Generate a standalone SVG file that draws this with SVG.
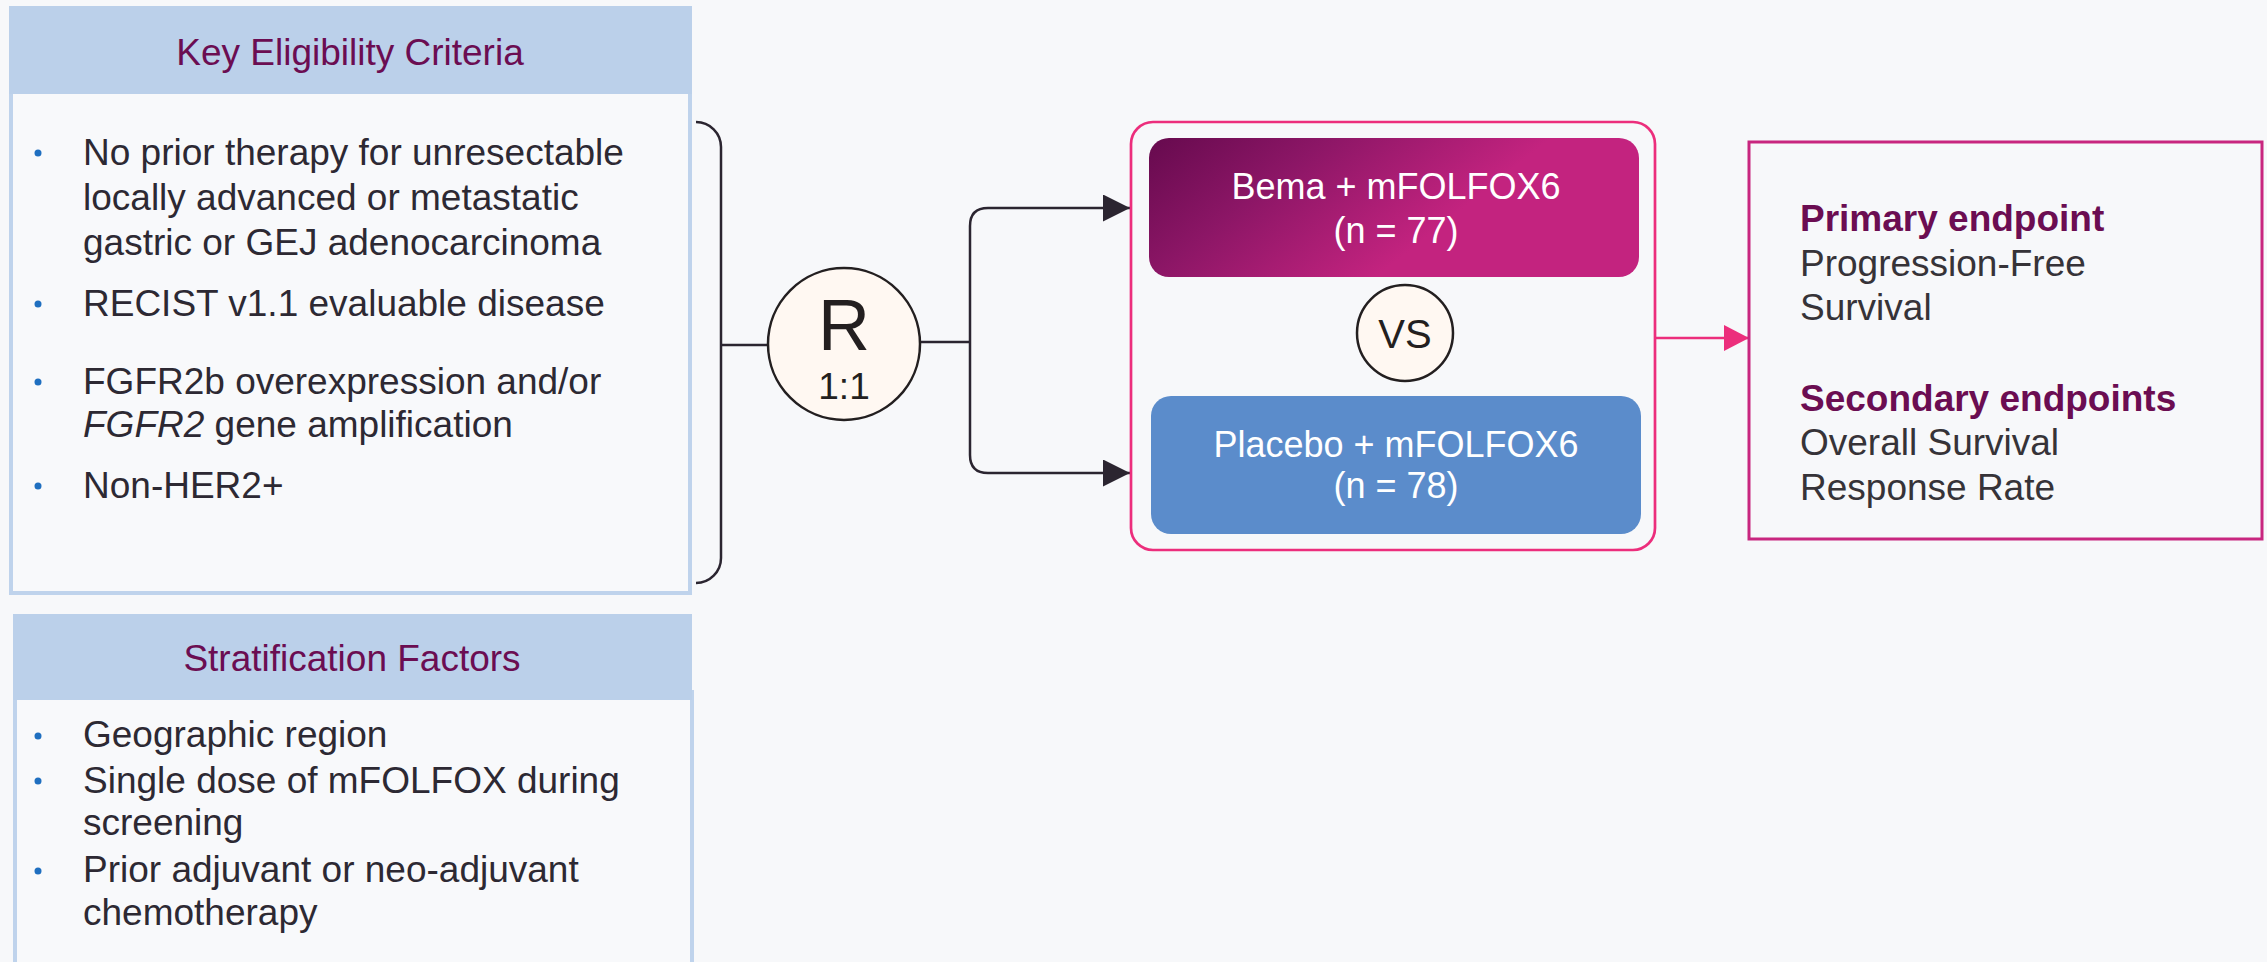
<svg xmlns="http://www.w3.org/2000/svg" width="2267" height="962" viewBox="0 0 2267 962">
  <defs>
    <linearGradient id="bemaFill" gradientUnits="userSpaceOnUse" x1="1149" y1="138" x2="1371" y2="418">
      <stop offset="0" stop-color="#660a4e"/>
      <stop offset="0.31" stop-color="#8c1666"/>
      <stop offset="0.7" stop-color="#c3237f"/>
      <stop offset="1" stop-color="#c3237f"/>
    </linearGradient>
    <marker id="arrowDark" viewBox="0 0 27 27" refX="27" refY="13.5" markerWidth="27" markerHeight="27" markerUnits="userSpaceOnUse" orient="auto">
      <path d="M0,0 L27,13.5 L0,27 Z" fill="#2b2530"/>
    </marker>
    <marker id="arrowPink" viewBox="0 0 25 26" refX="25" refY="13" markerWidth="25" markerHeight="26" markerUnits="userSpaceOnUse" orient="auto">
      <path d="M0,0 L25,13 L0,26 Z" fill="#ec2e7c"/>
    </marker>
  </defs>
  <style>
    text { font-family: "Liberation Sans", Arial, sans-serif; }
    .hdr { fill: #bbd0ea; }
    .panel { fill: #f8f9fb; stroke: #bfd3ec; stroke-width: 4; }
    .title { font-size: 37px; fill: #6b0d52; text-anchor: middle; }
    .body { font-size: 37px; fill: #2d2933; }
    .dot { fill: #1f6fc0; }
    .conn { fill: none; stroke: #2b2530; stroke-width: 2.5; }
    .disc { fill: #fff8f2; stroke: #231f20; stroke-width: 2.5; }
    .arm { font-size: 36px; fill: #ffffff; text-anchor: middle; }
    .ep-h { font-size: 37px; font-weight: bold; fill: #6b0d52; }
    .ep { font-size: 37px; fill: #363338; }
  </style>

  <rect width="2267" height="962" fill="#f7f8fa"/>

  <!-- Eligibility panel -->
  <g id="eligibility">
    <rect class="panel" x="11" y="8" width="679" height="585"/>
    <rect class="hdr" x="9" y="6" width="683" height="88"/>
    <text class="title" x="350" y="65">Key Eligibility Criteria</text>
    <circle class="dot" cx="38" cy="153" r="3.5"/>
    <text class="body" x="83" y="165">No prior therapy for unresectable</text>
    <text class="body" x="83" y="210">locally advanced or metastatic</text>
    <text class="body" x="83" y="255">gastric or GEJ adenocarcinoma</text>
    <circle class="dot" cx="38" cy="304" r="3.5"/>
    <text class="body" x="83" y="316">RECIST v1.1 evaluable disease</text>
    <circle class="dot" cx="38" cy="382" r="3.5"/>
    <text class="body" x="83" y="394">FGFR2b overexpression and/or</text>
    <text class="body" x="83" y="437"><tspan font-style="italic">FGFR2</tspan> gene amplification</text>
    <circle class="dot" cx="38" cy="486" r="3.5"/>
    <text class="body" x="83" y="498">Non-HER2+</text>
  </g>

  <!-- Stratification panel -->
  <g id="stratification">
    <rect class="panel" x="15" y="692" width="677" height="320"/>
    <rect class="hdr" x="13" y="614" width="679" height="86"/>
    <text class="title" x="352" y="671">Stratification Factors</text>
    <circle class="dot" cx="38" cy="736" r="3.5"/>
    <text class="body" x="83" y="747">Geographic region</text>
    <circle class="dot" cx="38" cy="781" r="3.5"/>
    <text class="body" x="83" y="793">Single dose of mFOLFOX during</text>
    <text class="body" x="83" y="835">screening</text>
    <circle class="dot" cx="38" cy="871" r="3.5"/>
    <text class="body" x="83" y="882">Prior adjuvant or neo-adjuvant</text>
    <text class="body" x="83" y="925">chemotherapy</text>
  </g>

  <!-- Connectors -->
  <g id="connectors">
    <path class="conn" d="M696,122 A25,25 0 0 1 721,147 V558 A25,25 0 0 1 696,583"/>
    <path class="conn" d="M721,345 H768"/>
    <path class="conn" d="M920,342 H970"/>
    <path class="conn" d="M970,342 V226 Q970,208 988,208 H1130" marker-end="url(#arrowDark)"/>
    <path class="conn" d="M970,342 V455 Q970,473 988,473 H1130" marker-end="url(#arrowDark)"/>
    <path d="M1656,338 H1749" fill="none" stroke="#ec2e7c" stroke-width="2.5" marker-end="url(#arrowPink)"/>
  </g>

  <!-- Randomisation -->
  <g id="randomise">
    <circle class="disc" cx="844" cy="344" r="76"/>
    <text x="844" y="350" font-size="72" fill="#231f20" text-anchor="middle">R</text>
    <text x="844" y="399" font-size="37" fill="#231f20" text-anchor="middle">1:1</text>
  </g>

  <!-- Treatment arms -->
  <g id="arms">
    <rect x="1131" y="122" width="524" height="428" rx="22" fill="none" stroke="#ec2e7c" stroke-width="2.7"/>
  </g>
  <g id="arm-bema">
    <rect x="1149" y="138" width="490" height="139" rx="20" fill="url(#bemaFill)"/>
    <text class="arm" x="1396" y="199">Bema + mFOLFOX6</text>
    <text class="arm" x="1396" y="243">(n = 77)</text>
  </g>
  <g id="vs">
    <circle class="disc" cx="1405" cy="333" r="48"/>
    <text x="1405" y="348" font-size="40" fill="#231f20" text-anchor="middle">VS</text>
  </g>
  <g id="arm-placebo">
    <rect x="1151" y="396" width="490" height="138" rx="20" fill="#5b8ccb"/>
    <text class="arm" x="1396" y="457">Placebo + mFOLFOX6</text>
    <text class="arm" x="1396" y="498">(n = 78)</text>
  </g>

  <!-- Endpoints -->
  <g id="endpoints">
    <rect x="1749" y="142" width="513" height="397" fill="none" stroke="#c8267f" stroke-width="3"/>
    <text class="ep-h" x="1800" y="231">Primary endpoint</text>
    <text class="ep" x="1800" y="276">Progression-Free</text>
    <text class="ep" x="1800" y="320">Survival</text>
    <text class="ep-h" x="1800" y="411">Secondary endpoints</text>
    <text class="ep" x="1800" y="455">Overall Survival</text>
    <text class="ep" x="1800" y="500">Response Rate</text>
  </g>
</svg>
